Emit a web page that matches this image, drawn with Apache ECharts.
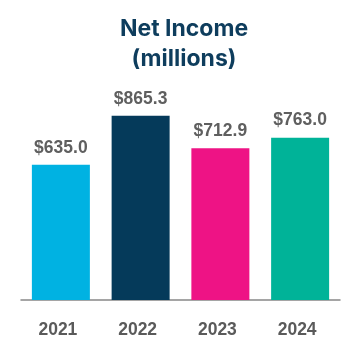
<!DOCTYPE html>
<html>
<head>
<meta charset="utf-8">
<script src="https://cdn.jsdelivr.net/npm/echarts@6/dist/echarts.min.js"></script>
<style>html,body{margin:0;padding:0;background:#fff}#c{width:360px;height:360px}</style>
</head>
<body>
<div id="c"></div>
<script>
const categories = ['2021', '2022', '2023', '2024'];
const netIncome = [635.0, 865.3, 712.9, 763.0];
const barColors = ['#00B2E2', '#053A5A', '#EE1385', '#00B398'];
const titleText = 'Net Income\n(millions)';

const chart = echarts.init(document.getElementById('c'), null, {renderer: 'canvas'});
chart.setOption({
  animation: false,
  backgroundColor: '#ffffff',
  title: {
    text: titleText,
    left: 179,
    textAlign: 'center',
    top: 9,
    textStyle: {
      fontFamily: 'Inter',
      fontWeight: 'bold',
      fontSize: 23,
      lineHeight: 30,
      color: '#0E3D5D'
    }
  },
  grid: {left: 21, right: 20, top: 87.2, bottom: 60, containLabel: false},
  xAxis: {
    type: 'category',
    data: categories,
    axisLine: {show: true, lineStyle: {color: '#888888', width: 1.5}},
    axisTick: {show: false},
    axisLabel: {
      margin: 21,
      padding: [0, 6, 0, 0],
      fontFamily: '"Liberation Sans", Arial, sans-serif',
      fontWeight: 'bold',
      fontSize: 17.5,
      color: '#5A5A5A'
    }
  },
  yAxis: {
    type: 'value', min: 0, max: 1000, show: false,
    splitLine: {show: false}
  },
  series: [{
    type: 'bar',
    data: netIncome.map((v, i) => ({value: v, itemStyle: {color: barColors[i]}})),
    barWidth: 58,
    label: {
      show: true,
      position: 'top',
      distance: 8,
      formatter: p => '$' + p.value.toFixed(1),
      fontFamily: '"Liberation Sans", Arial, sans-serif',
      fontWeight: 'bold',
      fontSize: 17.5,
      color: '#5F5F5F'
    }
  }]
});
</script>
</body>
</html>
